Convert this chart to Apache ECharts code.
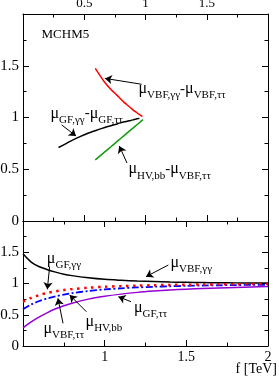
<!DOCTYPE html>
<html><head><meta charset="utf-8">
<script src="https://cdn.jsdelivr.net/npm/echarts@6/dist/echarts.min.js"></script>
<style>html,body{margin:0;padding:0;background:#fff}#c{width:279px;height:377px}</style>
</head><body><div id="c"></div>
<script>
// ---- data ----
const fTeV        = [0.5, 0.55, 0.6, 0.65, 0.7, 0.75, 0.8, 0.9, 1.0, 1.1, 1.2, 1.3, 1.4, 1.5, 1.6, 1.7, 1.8, 1.9, 2.0];
const muVBFgamgam = [1.475, 1.343, 1.268, 1.221, 1.182, 1.149, 1.126, 1.092, 1.067, 1.052, 1.04, 1.031, 1.024, 1.019, 1.015, 1.012, 1.01, 1.008, 1.007];
const muGFgamgam  = [0.71, 0.77, 0.815, 0.85, 0.875, 0.895, 0.91, 0.932, 0.948, 0.958, 0.966, 0.972, 0.977, 0.981, 0.984, 0.987, 0.989, 0.991, 0.993];
const muVBFtautau = [0.59, 0.665, 0.72, 0.762, 0.795, 0.823, 0.846, 0.88, 0.905, 0.923, 0.937, 0.948, 0.956, 0.962, 0.967, 0.971, 0.975, 0.978, 0.98];
const muHVbb      = [0.59, 0.665, 0.72, 0.762, 0.795, 0.823, 0.846, 0.88, 0.905, 0.923, 0.937, 0.948, 0.956, 0.962, 0.967, 0.971, 0.975, 0.978, 0.98];
const muGFtautau  = [0.29, 0.385, 0.465, 0.535, 0.595, 0.645, 0.685, 0.75, 0.795, 0.83, 0.858, 0.879, 0.896, 0.909, 0.92, 0.929, 0.937, 0.944, 0.95];
const topXLabels  = [0.5, 1, 1.5];
const botXLabels  = [1, 1.5, 2];
const yLabels     = [0, 0.5, 1, 1.5];

const serif = '"Liberation Serif","DejaVu Serif",serif';
const pairs = (xs, ys) => xs.map((x, i) => [x, ys[i]]);

const rich = {
  m: {fontFamily: serif, fontSize: 16, lineHeight: 18, verticalAlign: 'middle', color: '#000'},
  n: {fontFamily: serif, fontSize: 15, lineHeight: 18, verticalAlign: 'middle', color: '#000'},
  s: {fontFamily: serif, fontSize: 11, lineHeight: 12, padding: [13, 0, 0, 0], verticalAlign: 'middle', color: '#000'}
};
const mu = s => '{m|μ}{s|' + s + '}';
const lab = (coord, text, size) => ({coord, value: 0, label: {show: true, position: 'right', distance: 0, formatter: text, rich,
  fontFamily: serif, fontSize: size || 15, color: '#000'}});
const arrow = (a, b) => [{coord: a}, {coord: b}];

function axisCommon(show, labels, size, pos) {
  return {
    type: 'value', position: pos, interval: 0.5,
    axisLine: {show: true, onZero: false, lineStyle: {color: '#000', width: 1}},
    axisTick: {show: true, inside: true, length: 6, lineStyle: {color: '#000', width: 1}},
    minorTick: {show: true, splitNumber: 2, length: 3.5, lineStyle: {color: '#000', width: 1}},
    splitLine: {show: false}, minorSplitLine: {show: false},
    axisLabel: {show: show, showMinLabel: true, showMaxLabel: true, hideOverlap: false,
      fontFamily: serif, fontSize: size, color: '#000', margin: 4,
      formatter: v => (labels && labels.some(l => Math.abs(l - v) < 1e-9)) ? String(v) : ''}
  };
}

const option = {
  animation: false,
  backgroundColor: '#fff',
  grid: [
    {left: 23, right: 11, top: 14, height: 207, containLabel: false, outerBoundsMode: 'none'},
    {left: 23, right: 11, top: 221, height: 125, containLabel: false, outerBoundsMode: 'none'}
  ],
  xAxis: [
    Object.assign(axisCommon(true, topXLabels, 13, 'top'), {gridIndex: 0, min: 0, max: 2}),
    Object.assign(axisCommon(false, null, 13, 'bottom'), {gridIndex: 0, min: 0, max: 2}),
    Object.assign(axisCommon(true, botXLabels, 14, 'bottom'), {gridIndex: 1, min: 0.5, max: 2}),
    Object.assign(axisCommon(false, null, 14, 'top'), {gridIndex: 1, min: 0.5, max: 2})
  ],
  yAxis: [
    Object.assign(axisCommon(true, yLabels, 15, 'left'), {gridIndex: 0, min: 0, max: 2}),
    Object.assign(axisCommon(false, null, 15, 'right'), {gridIndex: 0, min: 0, max: 2}),
    Object.assign(axisCommon(true, yLabels, 15, 'left'), {gridIndex: 1, min: 0, max: 2}),
    Object.assign(axisCommon(false, null, 15, 'right'), {gridIndex: 1, min: 0, max: 2})
  ],
  series: [
    // ---- top panel: parametric pairs ----
    {type: 'line', xAxisIndex: 0, yAxisIndex: 0, data: pairs(muVBFtautau, muVBFgamgam), showSymbol: false, smooth: 0.2,
      lineStyle: {color: '#ff0000', width: 1.5}},
    {type: 'line', xAxisIndex: 0, yAxisIndex: 0, data: pairs(muGFtautau, muGFgamgam), showSymbol: false, smooth: 0.2,
      lineStyle: {color: '#000', width: 1.5}},
    {type: 'line', xAxisIndex: 0, yAxisIndex: 0, data: pairs(muVBFtautau, muHVbb), showSymbol: false, smooth: 0.2,
      lineStyle: {color: '#109a10', width: 1.5},
      markLine: {silent: true, symbol: ['none', 'arrow'], symbolSize: 7, label: {show: false},
        lineStyle: {color: '#000', width: 1, type: 'solid'},
        data: [
          arrow([0.969, 1.321], [0.669, 1.378]),
          arrow([0.316, 0.928], [0.433, 0.821]),
          arrow([0.849, 0.56], [0.786, 0.725])
        ]},
      markPoint: {silent: true, symbol: 'circle', symbolSize: 1, itemStyle: {color: 'rgba(0,0,0,0)'},
        data: [
          lab([0.147, 1.797], 'MCHM5', 13),
          lab([0.939, 1.275], mu('VBF,γγ') + '{n|-}' + mu('VBF,ττ')),
          lab([0.22, 1.04], mu('GF,γγ') + '{n|-}' + mu('GF,ττ')),
          lab([0.857, 0.50], mu('HV,bb') + '{n|-}' + mu('VBF,ττ'))
        ]}},
    // ---- bottom panel: vs f ----
    {type: 'line', xAxisIndex: 2, yAxisIndex: 2, data: pairs(fTeV, muVBFgamgam), showSymbol: false, smooth: 0.3,
      lineStyle: {color: '#000', width: 1.5}},
    {type: 'line', xAxisIndex: 2, yAxisIndex: 2, data: pairs(fTeV, muGFtautau), showSymbol: false, smooth: 0.3,
      lineStyle: {color: '#9400d3', width: 1.5}},
    {type: 'line', xAxisIndex: 2, yAxisIndex: 2, data: pairs(fTeV, muHVbb), showSymbol: false, smooth: 0.3,
      lineStyle: {color: '#0000ff', width: 1.8, type: [7, 2.5, 2, 2.5]}},
    {type: 'line', xAxisIndex: 2, yAxisIndex: 2, data: pairs(fTeV, muGFgamgam), showSymbol: false, smooth: 0.3,
      lineStyle: {color: '#ff0000', width: 2.5, type: [2.5, 4.5]},
      markLine: {silent: true, symbol: ['none', 'arrow'], symbolSize: 7, label: {show: false},
        lineStyle: {color: '#000', width: 1, type: 'solid'},
        data: [
          arrow([0.663, 1.269], [0.649, 0.907]),
          arrow([1.39, 1.296], [1.253, 1.109]),
          arrow([1.161, 0.709], [1.084, 0.789]),
          arrow([0.888, 0.549], [0.786, 0.816]),
          arrow([0.745, 0.363], [0.714, 0.763])
        ]},
      markPoint: {silent: true, symbol: 'circle', symbolSize: 1, itemStyle: {color: 'rgba(0,0,0,0)'},
        data: [
          lab([0.643, 1.392], mu('GF,γγ')),
          lab([1.40, 1.328], mu('VBF,γγ')),
          lab([1.176, 0.608], mu('GF,ττ')),
          lab([0.88, 0.384], mu('HV,bb')),
          lab([0.622, 0.272], mu('VBF,ττ'))
        ]}}
  ],
  graphic: [
    {type: 'text', right: 2, top: 362, style: {text: 'f [TeV]', font: '14px "Liberation Serif"', fill: '#000'}}
  ]
};
const chart = echarts.init(document.getElementById('c'), null, {renderer: 'canvas'});
chart.setOption(option);
</script>
</body></html>
